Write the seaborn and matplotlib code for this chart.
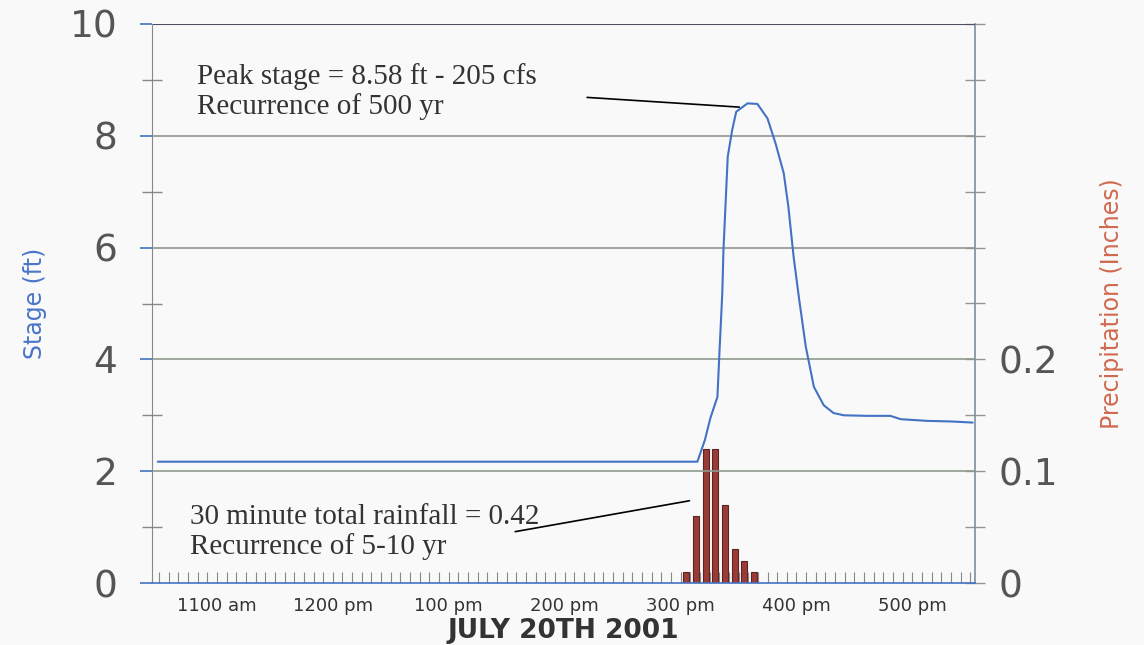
import seaborn as sns
import matplotlib.pyplot as plt
from matplotlib.ticker import FixedLocator, FixedFormatter, MultipleLocator
import pandas as pd

# stage record, time in decimal hours of the day
stage_time = [10.49, 15.145, 15.21, 15.257, 15.318, 15.335, 15.36, 15.37, 15.387,
              15.407, 15.445, 15.48, 15.577, 15.663, 15.75, 15.82, 15.89, 15.93,
              15.975, 16.02, 16.08, 16.15, 16.235, 16.32, 16.41, 16.61, 16.81,
              16.90, 17.13, 17.33, 17.52]
stage_ft = [2.17, 2.17, 2.56, 2.95, 3.33, 4.11, 5.19, 5.96, 6.73,
            7.63, 8.10, 8.43, 8.58, 8.57, 8.31, 7.86, 7.33, 6.73,
            5.84, 5.12, 4.23, 3.51, 3.18, 3.04, 3.00, 2.99, 2.99,
            2.93, 2.90, 2.89, 2.87]

# 5 minute rainfall
rain_time = [15.05, 15.133, 15.217, 15.30, 15.383, 15.467, 15.55, 15.633]
rain_in = [0.01, 0.06, 0.12, 0.12, 0.07, 0.03, 0.02, 0.01]

hour_ticks = [11, 12, 13, 14, 15, 16, 17]
hour_labels = ['1100 am', '1200 pm', '100 pm', '200 pm', '300 pm', '400 pm', '500 pm']

df = pd.DataFrame({'time': stage_time, 'stage': stage_ft})

sns.set_style('white')
plt.rcParams['font.family'] = ['DejaVu Sans']

fig = plt.figure(figsize=(11.44, 6.45), dpi=100, facecolor='#f9f9f9')
ax = fig.add_axes([152/1144, 1 - 583/645, 823/1144, 559/645])
ax.set_facecolor('none')
ax2 = ax.twinx()
ax.set_zorder(ax2.get_zorder() + 1)

# rainfall bars
ax2.bar(rain_time, rain_in, width=0.05, color='#9b3b36', edgecolor='#5a2424',
        linewidth=0.8)
ax2.set_ylim(0, 0.5)

# stage line
sns.lineplot(data=df, x='time', y='stage', ax=ax, color='#4472c4', linewidth=1.5)

ax.set_xlim(10.44, 17.54)
ax.set_ylim(0, 10)

# grid lines
for v in [2, 4, 6, 8]:
    ax.axhline(v, color='#8e998e', linewidth=1.2, zorder=0)
ax.axhline(10, color='#4b5060', linewidth=1.5, zorder=0)

# left axis
ax.yaxis.set_major_locator(MultipleLocator(2))
ax.yaxis.set_minor_locator(FixedLocator([1, 3, 5, 7, 9]))
ax.tick_params(axis='y', which='major', length=9, width=1.2, color='#4472c4',
               direction='out', pad=16, labelsize=27, labelcolor='#555555', left=True)
ax.tick_params(axis='y', which='minor', length=14, width=1, color='#888888',
               direction='inout', left=True)

# x axis
ax.xaxis.set_major_locator(FixedLocator(hour_ticks))
ax.xaxis.set_major_formatter(FixedFormatter(hour_labels))
ax.xaxis.set_minor_locator(MultipleLocator(5 / 60))
ax.tick_params(axis='x', which='both', direction='in', length=8, width=0.8,
               color='#888888', bottom=True, labelsize=13, labelcolor='#333333', pad=10)

ax.spines['left'].set_color('#888888')
ax.spines['bottom'].set_color('#4472c4')
ax.spines['bottom'].set_linewidth(1.2)
ax.spines['top'].set_visible(False)
ax.spines['right'].set_visible(False)

# right axis, only the first three steps of 0.05 carry labels
ax2.yaxis.set_major_locator(MultipleLocator(0.05))
ax2.yaxis.set_major_formatter(plt.FuncFormatter(
    lambda v, p: {0: '0', 2: '0.1', 4: '0.2'}.get(int(round(v / 0.05)), '')))
ax2.tick_params(axis='y', which='major', length=14, width=1, color='#8e998e',
                direction='inout', pad=10, labelsize=27, labelcolor='#555555', right=True)
for s in ['left', 'top', 'bottom']:
    ax2.spines[s].set_visible(False)
ax2.spines['right'].set_color('#7d8fa0')
ax2.spines['right'].set_linewidth(1.2)

# axis labels
ax.set_xlabel('JULY 20TH 2001', fontsize=19, fontweight='bold', color='#333333')
ax.xaxis.set_label_coords(0.5, -0.062)
ax.set_ylabel('Stage (ft)', fontsize=17, color='#4a76c8')
ax.yaxis.set_label_coords(-0.128, 0.5)
ax2.set_ylabel('Precipitation (Inches)', fontsize=17, color='#d06a50')
ax2.yaxis.set_label_coords(1.152, 0.5)

# annotations
serif = 'Liberation Serif'
ax.text(0.055, 0.93, 'Peak stage = 8.58 ft - 205 cfs\nRecurrence of 500 yr',
        transform=ax.transAxes, ha='left', va='top', fontsize=21, family=serif,
        color='#333333', linespacing=1.15)
ax.annotate('', xy=(15.53, 8.51), xytext=(14.17, 8.69),
            arrowprops=dict(arrowstyle='-', color='black', linewidth=1.2))
ax.text(0.046, 0.142, '30 minute total rainfall = 0.42\nRecurrence of 5-10 yr',
        transform=ax.transAxes, ha='left', va='top', fontsize=21, family=serif,
        color='#333333', linespacing=1.15)
ax.annotate('', xy=(15.10, 1.48), xytext=(13.55, 0.91),
            arrowprops=dict(arrowstyle='-', color='black', linewidth=1.2))

fig.savefig('out.png', dpi=100, facecolor=fig.get_facecolor())
